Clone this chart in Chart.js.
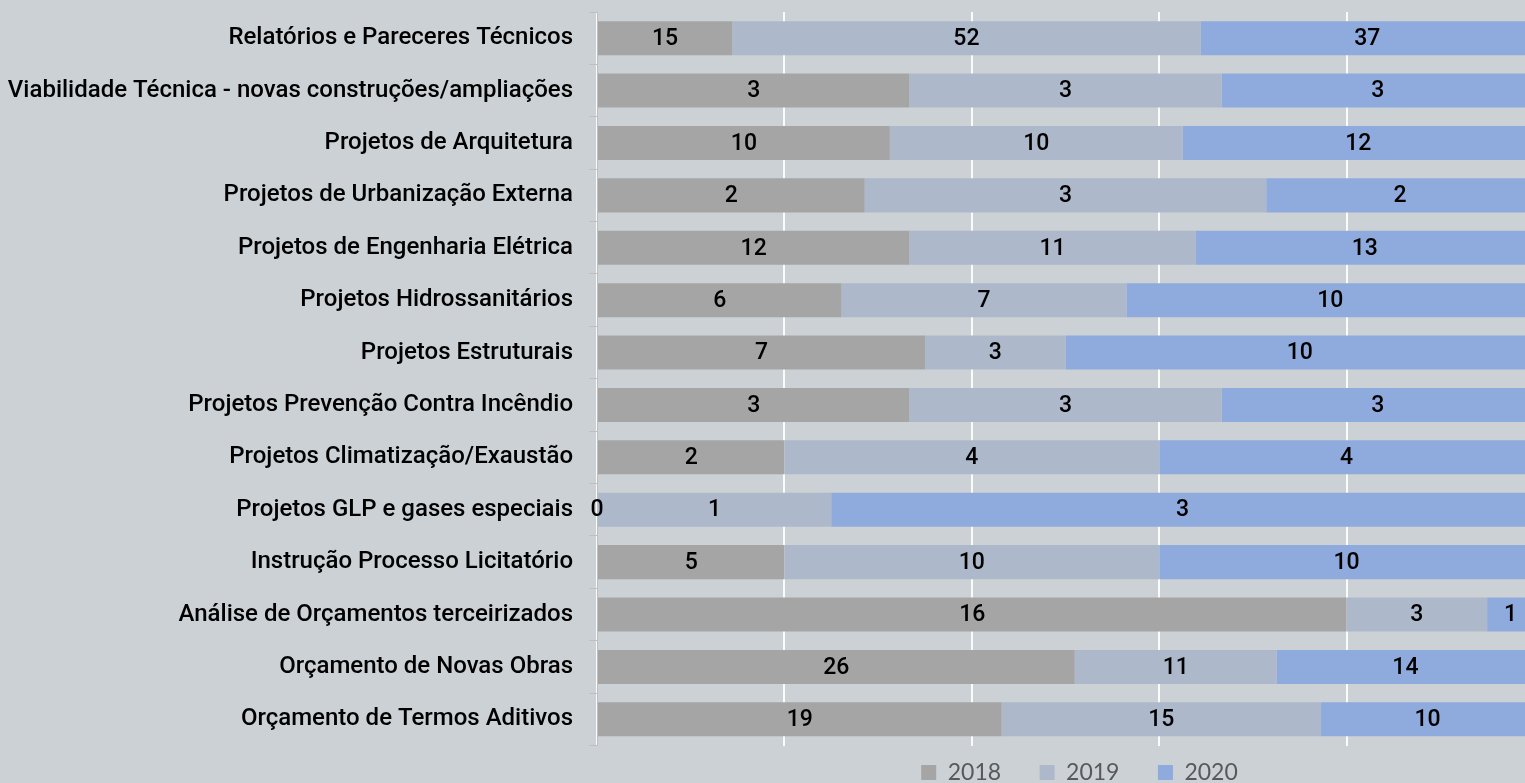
<!DOCTYPE html>
<html><head><meta charset="utf-8">
<script src="https://cdn.jsdelivr.net/npm/chart.js@4.4.1/dist/chart.umd.min.js"></script>
<style>
html,body{margin:0;padding:0;background:#ccd1d5;overflow:hidden;width:1525px;height:783px}
#wrap{position:absolute;left:0;top:0;width:1540px;height:817px}
</style></head><body>
<div id="wrap"><canvas id="c"></canvas></div>
<script>
const categories = [
  'Relatórios e Pareceres Técnicos',
  'Viabilidade Técnica - novas construções/ampliações',
  'Projetos de Arquitetura',
  'Projetos de Urbanização Externa',
  'Projetos de Engenharia Elétrica',
  'Projetos Hidrossanitários',
  'Projetos Estruturais',
  'Projetos Prevenção Contra Incêndio',
  'Projetos Climatização/Exaustão',
  'Projetos GLP e gases especiais',
  'Instrução Processo Licitatório',
  'Análise de Orçamentos terceirizados',
  'Orçamento de Novas Obras',
  'Orçamento de Termos Aditivos'
];
const series2018 = [15, 3, 10, 2, 12, 6, 7, 3, 2, 0, 5, 16, 26, 19];
const series2019 = [52, 3, 10, 3, 11, 7, 3, 3, 4, 1, 10, 3, 11, 15];
const series2020 = [37, 3, 12, 2, 13, 10, 10, 3, 4, 3, 10, 1, 14, 10];
const seriesNames = ['2018', '2019', '2020'];
const seriesColors = ['#a5a5a5', '#adb9ca', '#8faadc'];
const xTicks = [0, 20, 40, 60, 80, 100];

const allSeries = [series2018, series2019, series2020];
const totals = categories.map((_, i) => allSeries.reduce((s, a) => s + a[i], 0));

const datasets = allSeries.map((arr, k) => ({
  label: seriesNames[k],
  counts: arr,
  data: arr.map((v, i) => v / totals[i] * 100),
  backgroundColor: seriesColors[k],
  borderWidth: 0,
  barPercentage: 0.65,
  categoryPercentage: 1.0
}));

const LABEL_FONT = '500 23px Roboto';

const barLabels = {
  id: 'barLabels',
  afterDatasetsDraw(chart) {
    const ctx = chart.ctx;
    ctx.save();
    ctx.font = LABEL_FONT;
    ctx.fillStyle = '#000000';
    ctx.textAlign = 'center';
    ctx.textBaseline = 'middle';
    chart.data.datasets.forEach((ds, di) => {
      const meta = chart.getDatasetMeta(di);
      meta.data.forEach((bar, i) => {
        const p = bar.getProps(['x', 'base', 'y'], true);
        ctx.fillText(String(ds.counts[i]), (p.x + p.base) / 2, p.y + 1);
      });
    });
    ctx.restore();
  }
};

const legendShift = {
  id: 'legendShift',
  afterLayout(chart) {
    const lg = chart.legend;
    if (lg) { lg.left += 14; lg.right += 14; lg.top -= 23; lg.bottom -= 23; }
  }
};

new Chart(document.getElementById('c'), {
  type: 'bar',
  data: { labels: categories, datasets },
  plugins: [barLabels, legendShift],
  options: {
    indexAxis: 'y',
    responsive: true,
    maintainAspectRatio: false,
    animation: false,
    layout: { padding: { top: 12, right: 6, left: 0, bottom: 0 } },
    scales: {
      x: {
        stacked: true,
        min: 0, max: 100,
        afterBuildTicks(scale) { scale.ticks = xTicks.map(v => ({ value: v })); },
        afterFit(scale) { scale.paddingLeft = 0; scale.paddingRight = 0; },
        ticks: { display: false },
        grid: { color: 'rgba(255,255,255,0.9)', lineWidth: 2, drawTicks: false },
        border: { display: false }
      },
      y: {
        stacked: true,
        afterFit(scale) { scale.width = 597; scale.paddingTop = 0; scale.paddingBottom = 0; },
        ticks: { font: { family: 'Roboto', size: 24, weight: '500' }, color: '#000000', padding: 16, autoSkip: false },
        grid: { drawOnChartArea: false, color: '#bfbfbf', tickLength: 8, offset: true },
        border: { display: true, color: '#bfbfbf', width: 1 }
      }
    },
    plugins: {
      legend: {
        position: 'bottom',
        fullSize: false,
        labels: {
          boxWidth: 15, boxHeight: 15,
          font: { family: 'Lato', size: 23 },
          color: '#595959',
          padding: 38.5
        }
      },
      tooltip: { enabled: false }
    }
  }
});
</script>
</body></html>
